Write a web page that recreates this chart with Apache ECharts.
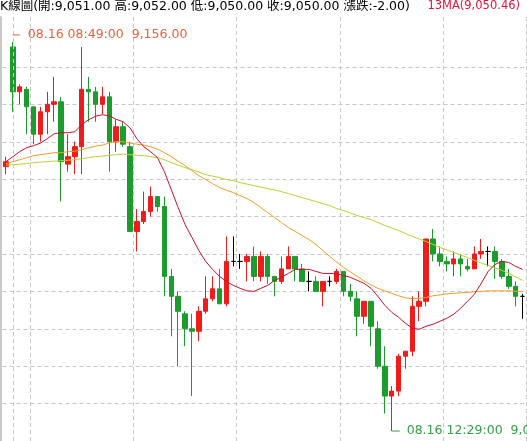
<!DOCTYPE html>
<html>
<head>
<meta charset="utf-8">
<script src="https://cdn.jsdelivr.net/npm/echarts@6/dist/echarts.min.js"></script>
<style>
    html, body { margin: 0; padding: 0; background: #fff; }
    #chart { width: 527px; height: 441px; }
</style>
</head>
<body>
<div id="chart"></div>
<script>
// 4分K, 08.16
const day = '08.16';
const times = [
    '08:45', '08:49', '08:53', '08:57', '09:01', '09:05', '09:09', '09:13', '09:17', '09:21',
    '09:25', '09:29', '09:33', '09:37', '09:41', '09:45', '09:49', '09:53', '09:57', '10:01',
    '10:05', '10:09', '10:13', '10:17', '10:21', '10:25', '10:29', '10:33', '10:37', '10:41',
    '10:45', '10:49', '10:53', '10:57', '11:01', '11:05', '11:09', '11:13', '11:17', '11:21',
    '11:25', '11:29', '11:33', '11:37', '11:41', '11:45', '11:49', '11:53', '11:57', '12:01',
    '12:05', '12:09', '12:13', '12:17', '12:21', '12:25', '12:29', '12:33', '12:37', '12:41',
    '12:45', '12:49', '12:53', '12:57', '13:01', '13:05', '13:09', '13:13', '13:17', '13:21',
    '13:25', '13:29', '13:33', '13:37', '13:41', '13:45'
];
const opens = [
    9106, 9154, 9136, 9137, 9130, 9119, 9128, 9131, 9132, 9107,
    9110, 9114, 9137, 9136, 9131, 9134, 9116, 9122, 9114, 9080,
    9084, 9088, 9094, 9090, 9062, 9054, 9047, 9041, 9040, 9048,
    9053, 9057, 9051, 9068, 9068, 9068, 9070, 9062, 9070, 9062,
    9060, 9065, 9070, 9065, 9060, 9060, 9056, 9060, 9060, 9064,
    9056, 9053, 9046, 9052, 9041, 9026, 9014, 9016, 9030, 9032,
    9050, 9052, 9077, 9071, 9068, 9067, 9069, 9066, 9065, 9071,
    9072, 9072, 9068, 9062, 9058, 9054
];
const closes = [
    9108, 9136, 9138, 9130, 9119, 9128, 9131, 9132, 9108, 9110,
    9114, 9137, 9136, 9131, 9134, 9116, 9122, 9115, 9080, 9084,
    9088, 9094, 9090, 9062, 9054, 9048, 9041, 9040, 9048, 9053,
    9057, 9051, 9068, 9068, 9068, 9070, 9062, 9070, 9062, 9060,
    9065, 9070, 9065, 9060, 9060, 9056, 9060, 9060, 9064, 9056,
    9054, 9046, 9052, 9042, 9026, 9014, 9016, 9030, 9032, 9050,
    9052, 9077, 9071, 9068, 9067, 9069, 9067, 9065, 9071, 9072,
    9072, 9068, 9062, 9058, 9054, 9054
];
const lows = [
    9103, 9128, 9131, 9119, 9115, 9116, 9119, 9124, 9092, 9104,
    9103, 9103, 9124, 9124, 9127, 9104, 9112, 9114, 9080, 9072,
    9083, 9086, 9088, 9054, 9038, 9026, 9034, 9014, 9036, 9047,
    9052, 9051, 9050, 9066, 9065, 9060, 9060, 9060, 9059, 9054,
    9059, 9065, 9060, 9060, 9056, 9056, 9050, 9058, 9059, 9054,
    9052, 9038, 9043, 9034, 9025, 9007, 9000, 9014, 9025, 9030,
    9044, 9050, 9068, 9066, 9064, 9062, 9062, 9064, 9065, 9069,
    9066, 9061, 9061, 9057, 9050, 9045
];
const highs = [
    9110, 9156, 9139, 9138, 9130, 9130, 9136, 9142, 9134, 9119,
    9116, 9154, 9142, 9138, 9138, 9136, 9125, 9124, 9116, 9089,
    9096, 9098, 9094, 9094, 9065, 9056, 9048, 9047, 9050, 9062,
    9062, 9065, 9078, 9078, 9071, 9071, 9074, 9072, 9071, 9062,
    9070, 9074, 9070, 9067, 9064, 9062, 9060, 9062, 9065, 9064,
    9059, 9056, 9052, 9052, 9044, 9034, 9018, 9031, 9032, 9054,
    9056, 9077, 9081, 9074, 9070, 9072, 9071, 9069, 9074, 9077,
    9074, 9074, 9069, 9065, 9060, 9055
];
// 均線 (讀圖估計)
const ma13 = [
    9108.0, 9110.0, 9112.0, 9113.6, 9114.4, 9115.4, 9117.2, 9119.2, 9119.6, 9119.6,
    9120.0, 9122.8, 9124.8, 9126.2, 9126.8, 9126.4, 9125.0, 9124.0, 9121.6, 9117.2,
    9114.0, 9112.0, 9109.6, 9104.0, 9096.8, 9089.6, 9082.8, 9077.6, 9072.4, 9068.0,
    9064.8, 9062.0, 9060.0, 9058.4, 9057.2, 9056.2, 9056.0, 9057.2, 9058.4, 9060.4,
    9061.6, 9063.2, 9064.8, 9064.8, 9064.8, 9064.0, 9063.2, 9063.2, 9063.0, 9062.4,
    9061.6, 9060.4, 9059.2, 9057.2, 9054.0, 9050.4, 9047.6, 9045.6, 9043.2, 9041.2,
    9040.8, 9042.0, 9042.8, 9044.0, 9045.2, 9046.8, 9049.2, 9052.0, 9054.8, 9059.2,
    9064.0, 9066.8, 9068.0, 9067.6, 9066.0, 9064.8
];
const maMid = [
    9107.2, 9108.0, 9108.8, 9109.6, 9110.4, 9110.8, 9111.2, 9111.6, 9111.6, 9112.0,
    9112.2, 9112.8, 9113.6, 9114.2, 9114.6, 9115.6, 9116.0, 9116.0, 9115.4, 9115.0,
    9114.6, 9114.0, 9113.0, 9111.6, 9110.0, 9108.2, 9106.4, 9104.4, 9102.4, 9100.8,
    9099.2, 9097.6, 9096.6, 9095.6, 9094.4, 9093.2, 9091.6, 9089.6, 9087.6, 9085.6,
    9083.6, 9081.6, 9080.0, 9078.4, 9076.8, 9074.8, 9072.4, 9070.0, 9067.8, 9065.6,
    9063.8, 9062.0, 9060.2, 9058.6, 9057.2, 9056.2, 9055.2, 9054.2, 9053.4, 9053.1,
    9053.2, 9053.6, 9054.2, 9054.6, 9055.0, 9055.2, 9055.4, 9055.6, 9055.8, 9056.0,
    9056.2, 9056.2, 9056.2, 9056.2, 9056.0, 9055.8
];
const maLong = [
    9106.6, 9106.8, 9107.0, 9107.2, 9107.6, 9107.8, 9108.0, 9108.2, 9108.4, 9108.6,
    9108.8, 9109.2, 9109.6, 9110.0, 9110.2, 9110.6, 9110.8, 9111.0, 9110.8, 9110.6,
    9110.4, 9110.0, 9109.6, 9108.8, 9107.6, 9106.6, 9105.6, 9104.8, 9103.8, 9102.8,
    9102.2, 9101.6, 9100.8, 9100.4, 9099.6, 9099.0, 9098.4, 9097.8, 9097.2, 9096.6,
    9096.0, 9095.2, 9094.4, 9093.6, 9092.8, 9092.0, 9091.2, 9090.4, 9089.2, 9088.4,
    9087.4, 9086.4, 9085.6, 9084.8, 9083.6, 9082.4, 9081.4, 9080.4, 9079.2, 9078.0,
    9077.0, 9076.0, 9074.8, 9073.6, 9072.6, 9071.6, 9070.6, 9069.6, 9068.4, 9067.4,
    9066.4, 9065.4, 9064.4, 9063.2, 9061.8, 9060.4
];
// 標題列數值
const infoValues = [9051, 9052, 9050, 9050, -2];
const ma13Last = 9050.46;
const openMark = '08:49';

const upColor = '#ee1c1c';
const downColor = '#1c9c2c';
const gridColor = '#c8c8c8';
const font = '"DejaVu Sans", "Noto Sans CJK TC", sans-serif';

function fmt(v) {
    return v.toLocaleString('en-US', { minimumFractionDigits: 2, maximumFractionDigits: 2 });
}

const kData = opens.map((o, i) => [o, closes[i], lows[i], highs[i]]);

let maxIdx = 0, minIdx = 0;
for (let i = 1; i < highs.length; i++) {
    if (highs[i] > highs[maxIdx]) maxIdx = i;
    if (lows[i] < lows[minIdx]) minIdx = i;
}

const titleText = 'K線圖(開:' + fmt(infoValues[0]) + ' 高:' + fmt(infoValues[1]) +
    ' 低:' + fmt(infoValues[2]) + ' 收:' + fmt(infoValues[3]) + ' 漲跌:' + fmt(infoValues[4]) + ')';

const chart = echarts.init(document.getElementById('chart'));

const option = {
    animation: false,
    backgroundColor: '#fff',
    title: [
        {
            text: titleText, left: 0, top: 0, padding: 0,
            textStyle: { fontSize: 12.5, fontWeight: 'normal', color: '#000', fontFamily: font }
        },
        {
            text: '13MA(' + fmt(ma13Last) + ')', right: 7, top: 0, padding: 0,
            textStyle: { fontSize: 11.5, fontWeight: 'normal', color: '#e0143c', fontFamily: font }
        }
    ],
    grid: [
        { left: 2.5, right: 1, top: 17, height: 425 },
        // 只畫水平虛線
        { left: 2.5, right: 1, top: 67, height: 375 }
    ],
    xAxis: [
        {
            type: 'category',
            data: times,
            boundaryGap: true,
            axisLine: { show: false },
            axisTick: { show: false },
            axisLabel: { show: false },
            splitLine: {
                show: true,
                interval: (i) => i > 0 && times[i].slice(0, 2) !== times[i - 1].slice(0, 2),
                lineStyle: { color: gridColor, type: [4, 3] }
            }
        },
        { type: 'value', gridIndex: 1, show: false, min: 0, max: 1 }
    ],
    yAxis: [
        {
            type: 'value',
            min: 8996,
            max: 9166,
            offset: 1.5,
            axisLine: { show: true, lineStyle: { color: gridColor, width: 2 } },
            axisTick: { show: false },
            axisLabel: { show: false },
            splitLine: { show: false }
        },
        {
            type: 'value',
            gridIndex: 1,
            min: 0,
            max: 10,
            interval: 1,
            axisLine: { show: false },
            axisTick: { show: false },
            axisLabel: { show: false },
            splitLine: { show: true, lineStyle: { color: gridColor, type: [4, 3] } }
        }
    ],
    series: [
        {
            name: 'K線圖',
            type: 'candlestick',
            data: kData,
            barWidth: 5,
            itemStyle: {
                color: upColor,
                color0: downColor,
                borderColor: upColor,
                borderColor0: downColor,
                borderColorDoji: '#000',
                borderWidth: 1
            },
            markLine: {
                silent: true,
                symbol: 'none',
                label: { show: false },
                lineStyle: { color: gridColor, type: [4, 3], width: 1 },
                data: [{ xAxis: openMark }]
            },
            markPoint: {
                silent: true,
                data: [
                    {
                        coord: [times[maxIdx], highs[maxIdx]],
                        symbol: 'rect',
                        symbolSize: [7, 1],
                        symbolOffset: [3.5, -7],
                        itemStyle: { color: '#e8633a' },
                        label: {
                            show: true, position: 'right', distance: 8,
                            formatter: day + ' ' + times[maxIdx] + ':00  ' + fmt(highs[maxIdx]),
                            color: '#e8633a', fontSize: 12.5, fontFamily: font
                        }
                    },
                    {
                        coord: [times[minIdx], lows[minIdx]],
                        symbol: 'rect',
                        symbolSize: [8, 1],
                        symbolOffset: [4, 0],
                        itemStyle: { color: '#35a04a' },
                        label: {
                            show: true, position: 'right', distance: 7,
                            formatter: day + ' ' + times[minIdx] + ':00  ' + fmt(lows[minIdx]),
                            color: '#35a04a', fontSize: 12.5, fontFamily: font
                        }
                    }
                ]
            }
        },
        {
            name: 'MA長',
            type: 'line',
            data: maLong,
            symbol: 'none',
            lineStyle: { color: '#b5d334', width: 1 },
            silent: true
        },
        {
            name: 'MA中',
            type: 'line',
            data: maMid,
            symbol: 'none',
            lineStyle: { color: '#f39c28', width: 1 },
            silent: true
        },
        {
            name: '13MA',
            type: 'line',
            data: ma13,
            symbol: 'none',
            lineStyle: { color: '#c8102e', width: 1 },
            silent: true
        }
    ]
};

chart.setOption(option);
</script>
</body>
</html>
